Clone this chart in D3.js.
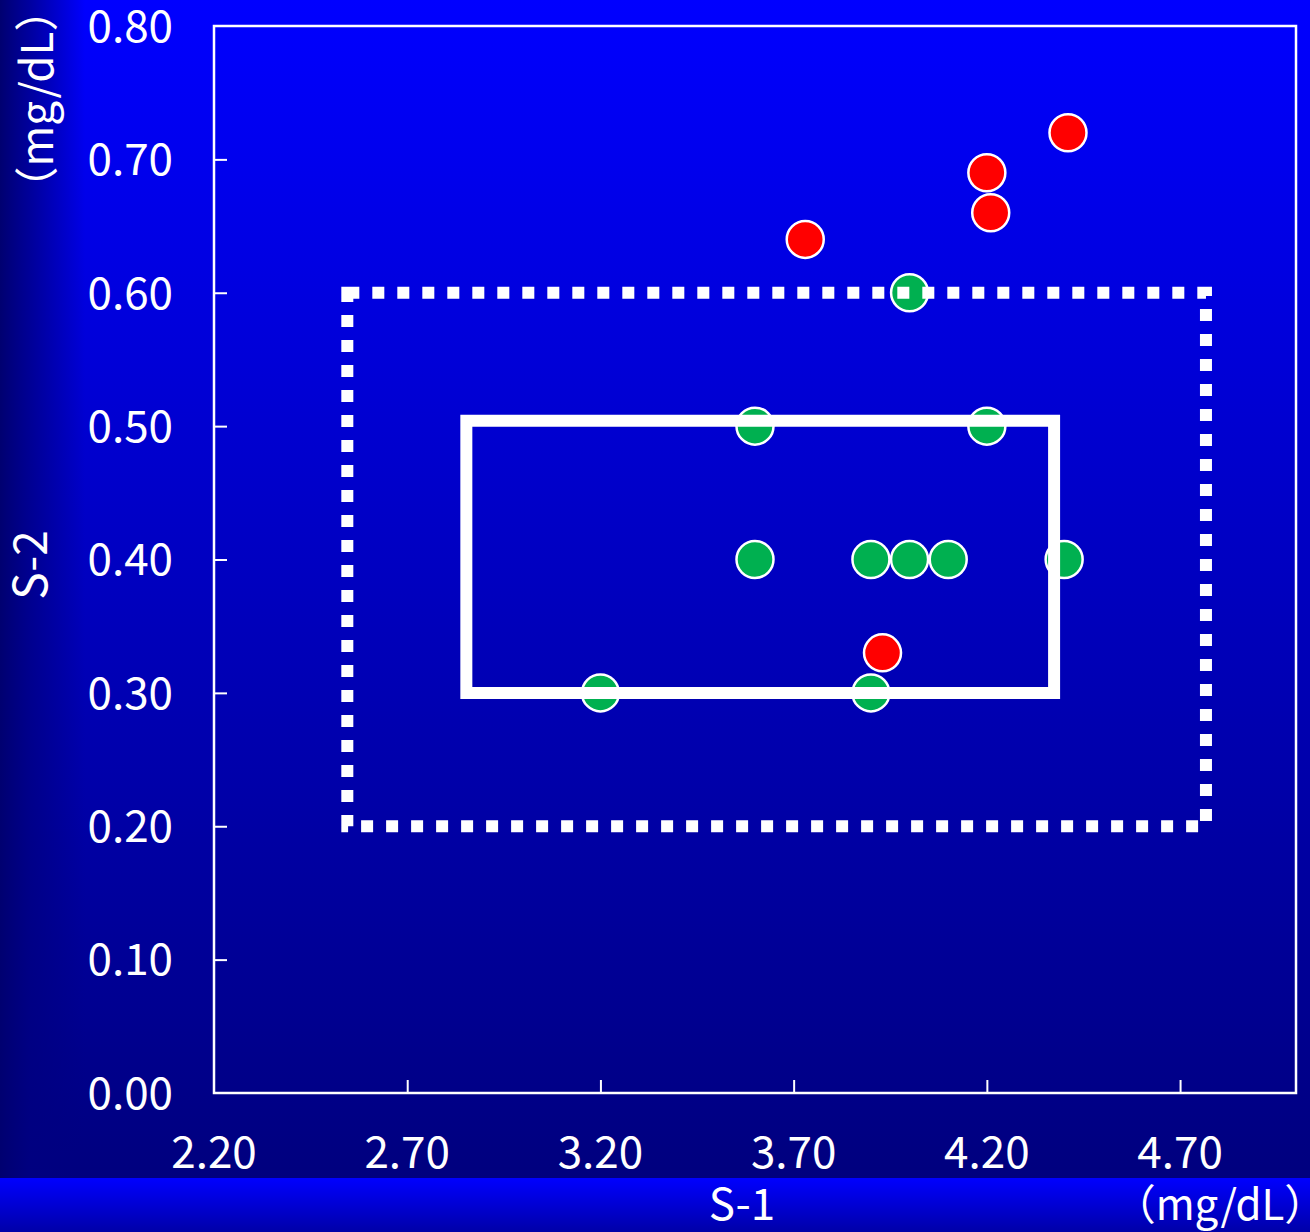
<!DOCTYPE html>
<html><head><meta charset="utf-8">
<script src="https://cdn.jsdelivr.net/npm/d3@7"></script>
<style>html,body{margin:0;padding:0;background:#000080;}svg{display:block;}</style>
</head><body>
<script>
// ---- data ----
const xTicks = [2.2, 2.7, 3.2, 3.7, 4.2, 4.7];
const yTicks = [0, 0.1, 0.2, 0.3, 0.4, 0.5, 0.6, 0.7, 0.8];
const greenX = [4.00, 3.60, 4.20, 3.60, 3.90, 4.00, 4.10, 4.40, 3.20, 3.90];
const greenY = [0.60, 0.50, 0.50, 0.40, 0.40, 0.40, 0.40, 0.40, 0.30, 0.30];
const redX = [4.41, 4.20, 4.21, 3.73, 3.93];
const redY = [0.72, 0.69, 0.66, 0.64, 0.33];
const outerRange = {x0: 2.545, x1: 4.767, y0: 0.20, y1: 0.60};
const innerRange = {x0: 2.853, x1: 4.374, y0: 0.30, y1: 0.504};
const xTitle = "S-1", yTitle = "S-2", unit = "（mg/dL）";

const W = 1310, H = 1232;
const L = 214, R = 1296, T = 26, B = 1093;
const FONT = "'Noto Sans CJK JP','Noto Sans',sans-serif";

const svg = d3.select("body").append("svg").attr("width", W).attr("height", H);
const defs = svg.append("defs");
const g1 = defs.append("linearGradient").attr("id","bgV").attr("x1",0).attr("y1",0).attr("x2",0).attr("y2",1);
g1.append("stop").attr("offset","0%").attr("stop-color","#0000FF");
g1.append("stop").attr("offset","100%").attr("stop-color","#00007E");
const g2 = defs.append("linearGradient").attr("id","bgL").attr("x1",0).attr("y1",0).attr("x2",1).attr("y2",0);
g2.append("stop").attr("offset","0%").attr("stop-color","#000070").attr("stop-opacity",1);
g2.append("stop").attr("offset","35%").attr("stop-color","#000080").attr("stop-opacity",0.75);
g2.append("stop").attr("offset","100%").attr("stop-color","#000080").attr("stop-opacity",0);
const g3 = defs.append("linearGradient").attr("id","bgB").attr("x1",0).attr("y1",0).attr("x2",0).attr("y2",1);
g3.append("stop").attr("offset","0%").attr("stop-color","#0000FF");
g3.append("stop").attr("offset","100%").attr("stop-color","#0000A8");

svg.append("rect").attr("x",0).attr("y",0).attr("width",W).attr("height",1178).attr("fill","url(#bgV)");
svg.append("rect").attr("x",0).attr("y",0).attr("width",85).attr("height",1178).attr("fill","url(#bgL)");
svg.append("rect").attr("x",0).attr("y",1178).attr("width",W).attr("height",H-1178).attr("fill","url(#bgB)");

const x = d3.scaleLinear().domain([2.2, 5.0]).range([L, R]);
const y = d3.scaleLinear().domain([0, 0.8]).range([B, T]);

// ticks (inward)
svg.append("g").attr("transform",`translate(0,${B})`)
  .call(d3.axisTop(x).tickValues(xTicks.slice(1)).tickSize(13).tickFormat(""))
  .call(s=>{s.select(".domain").remove(); s.selectAll("line").attr("stroke","#fff").attr("stroke-width",2);});
svg.append("g").attr("transform",`translate(${L},0)`)
  .call(d3.axisRight(y).tickValues(yTicks.slice(1,-1)).tickSize(13).tickFormat(""))
  .call(s=>{s.select(".domain").remove(); s.selectAll("line").attr("stroke","#fff").attr("stroke-width",2);});

// frame
svg.append("rect").attr("x",L).attr("y",T).attr("width",R-L).attr("height",B-T)
  .attr("fill","none").attr("stroke","#fff").attr("stroke-width",2.5);

// tick labels
svg.append("g").selectAll("text").data(yTicks).join("text")
  .attr("x",173).attr("y",d=>y(d)).attr("dy","0.36em").attr("text-anchor","end")
  .attr("fill","#fff").attr("font-family",FONT).attr("font-size",44)
  .text(d=>d.toFixed(2));
svg.append("g").selectAll("text").data(xTicks).join("text")
  .attr("x",d=>x(d)).attr("y",1152).attr("dy","0.36em").attr("text-anchor","middle")
  .attr("fill","#fff").attr("font-family",FONT).attr("font-size",44)
  .text(d=>d.toFixed(2));

// points
const greens = greenX.map((v,i)=>({x:v,y:greenY[i]}));
const reds = redX.map((v,i)=>({x:v,y:redY[i]}));
svg.append("g").selectAll("circle").data(greens).join("circle")
  .attr("cx",d=>x(d.x)).attr("cy",d=>y(d.y)).attr("r",18.5)
  .attr("fill","#00B050").attr("stroke","#fff").attr("stroke-width",2.5);
svg.append("g").selectAll("circle").data(reds).join("circle")
  .attr("cx",d=>x(d.x)).attr("cy",d=>y(d.y)).attr("r",18.5)
  .attr("fill","#FF0000").attr("stroke","#fff").attr("stroke-width",2.5);

// range rectangles
function rectPath(r){
  return `M${x(r.x0)},${y(r.y1)}H${x(r.x1)}V${y(r.y0)}H${x(r.x0)}Z`;
}
svg.append("path").attr("d",rectPath(outerRange)).attr("fill","none")
  .attr("stroke","#fff").attr("stroke-width",12).attr("stroke-dasharray","12,13");
svg.append("path").attr("d",rectPath(innerRange)).attr("fill","none")
  .attr("stroke","#fff").attr("stroke-width",12);

// axis titles
svg.append("text").attr("x",742).attr("y",1204).attr("dy","0.36em").attr("text-anchor","middle")
  .attr("fill","#fff").attr("font-family",FONT).attr("font-size",44).text(xTitle);
svg.append("text").attr("x",1220).attr("y",1205).attr("dy","0.36em").attr("text-anchor","middle")
  .attr("fill","#fff").attr("font-family",FONT).attr("font-size",42).text(unit);
svg.append("text").attr("transform","translate(30,565) rotate(-90)").attr("dy","0.36em")
  .attr("text-anchor","middle").attr("fill","#fff").attr("font-family",FONT).attr("font-size",46).text(yTitle);
svg.append("text").attr("transform","translate(37,99) rotate(-90)").attr("dy","0.36em")
  .attr("text-anchor","middle").attr("fill","#fff").attr("font-family",FONT).attr("font-size",44).text(unit);
</script>
</body></html>
